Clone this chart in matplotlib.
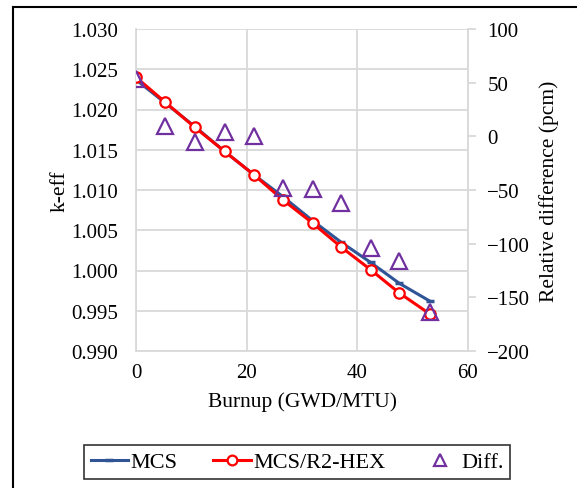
import numpy as np
import matplotlib.pyplot as plt
from matplotlib.lines import Line2D

plt.rcParams['font.family'] = ['Liberation Serif', 'DejaVu Serif']

burnup = [0, 5.3, 10.6, 16.0, 21.3, 26.5, 31.9, 37.1, 42.4, 47.6, 53.1]
keff_mcs = [1.0237, 1.0208, 1.0179, 1.0148, 1.0119, 1.0092, 1.0062, 1.0035, 1.0010, 0.9984, 0.9962]
keff_r2hex = [1.0240, 1.0209, 1.0178, 1.0148, 1.0119, 1.0088, 1.0059, 1.0029, 1.0001, 0.9972, 0.9946]
diff_pcm = [53, 10, -5, 4, 0, -48, -49, -62, -104, -116, -164]

grid_c = '#d9d9d9'
fs = 15

fig = plt.figure(figsize=(5.77, 4.89), dpi=100)
ax = fig.add_axes([136/577, 1-352/489, (468-136)/577, (352-30)/489])
ax2 = ax.twinx()

ax.plot(burnup, keff_mcs, color='#2f5597', lw=2.2, marker='_', ms=6, mew=2.5, zorder=3, label='MCS')
ax.plot(burnup, keff_r2hex, color='#ff0000', lw=2.2, marker='o', ms=7.5, mfc='white', mec='#ff0000',
        mew=1.6, zorder=4, label='MCS/R2-HEX')
ax2.plot(burnup, diff_pcm, ls='none', marker='^', ms=11, mfc='none', mec='#7030a0', mew=1.6,
         label='Diff.', zorder=5)

ax.set_xlim(0, 60)
ax.set_ylim(0.990, 1.030)
ax.set_xticks([0, 20, 40, 60])
ax.set_yticks(np.arange(0.990, 1.0301, 0.005))
ax.set_yticklabels(['%.3f' % v for v in np.arange(0.990, 1.0301, 0.005)])
ax2.set_ylim(-200, 100)
ax2.set_yticks(np.arange(-200, 101, 50))

ax.grid(True, color=grid_c, lw=1.3)
ax.set_axisbelow(True)
for s in ['top']:
    ax.spines[s].set_visible(False)
    ax2.spines[s].set_visible(False)
for s in ['left', 'bottom', 'right']:
    ax.spines[s].set_color(grid_c)
    ax2.spines[s].set_color(grid_c)
    ax.spines[s].set_linewidth(1.3)
    ax2.spines[s].set_linewidth(1.3)
ax.spines['right'].set_visible(False)
ax2.spines['left'].set_visible(False)
ax2.spines['bottom'].set_visible(False)

ax.tick_params(axis='both', length=0, labelsize=fs)
ax.tick_params(axis='y', pad=13)
ax.tick_params(axis='x', pad=9)
ax2.tick_params(axis='y', length=6, color=grid_c, width=1.3, labelsize=fs, pad=8)

ax.set_xlabel('Burnup (GWD/MTU)', fontsize=15.5, labelpad=6)
ax.set_ylabel('k-eff', fontsize=15.5, labelpad=1)
ax2.set_ylabel('Relative difference (pcm)', fontsize=15.5, labelpad=6)

handles = [
    Line2D([], [], color='#2f5597', lw=2.2, marker='_', ms=6, mew=2.5),
    Line2D([], [], color='#ff0000', lw=2.2, marker='o', ms=7, mfc='white', mew=1.6),
    Line2D([], [], ls='none', marker='^', ms=8, mfc='none', mec='#7030a0', mew=1.6),
]
leg = fig.legend(handles, ['MCS', 'MCS/R2-HEX', 'Diff.'], ncol=3, loc='center',
                 bbox_to_anchor=(297/577, 1-463/489), fontsize=16, frameon=True,
                 fancybox=False, edgecolor='black', handlelength=1.7, handletextpad=0.1,
                 columnspacing=1.6, borderpad=0.3, borderaxespad=0.0)
leg.get_frame().set_linewidth(1.2)

# outer frame (left and top edges)
fig.add_artist(Line2D([13/577, 13/577], [0, 1-8/489], color='black', lw=1.5, transform=fig.transFigure))
fig.add_artist(Line2D([13/577, 1], [1-8/489, 1-8/489], color='black', lw=1.5, transform=fig.transFigure))

fig.savefig('out.png', dpi=100)
